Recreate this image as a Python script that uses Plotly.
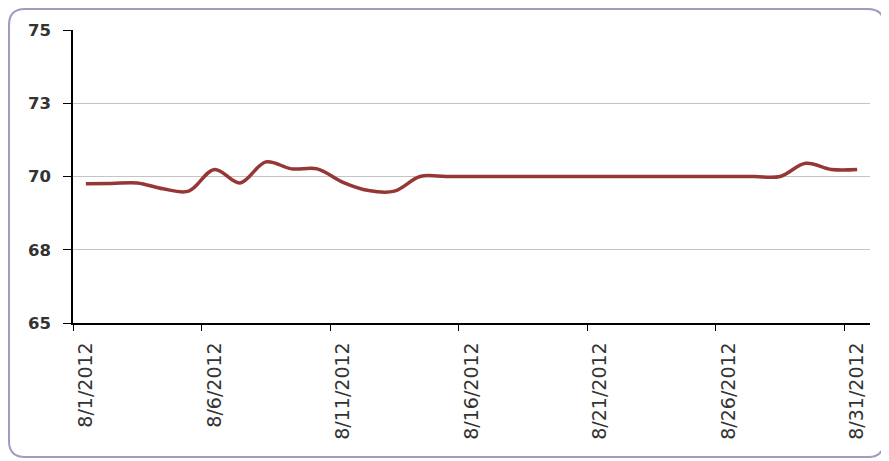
import pandas as pd
import plotly.graph_objects as go

# 1. 데이터
DATES = pd.date_range("2012-08-01", "2012-08-31", freq="D")
VALUES = [
    69.75, 69.76, 69.78, 69.58, 69.50, 70.24, 69.78, 70.50, 70.26, 70.26,
    69.80, 69.52, 69.50, 70.00, 70.00, 70.00, 70.00, 70.00, 70.00, 70.00,
    70.00, 70.00, 70.00, 70.00, 70.00, 70.00, 70.00, 70.00, 70.45, 70.24,
    70.24,
]
Y_TICKS = [65, 67.5, 70, 72.5, 75]

# 2. 공통 설정
FONT_FAMILY = "DejaVu Sans, Liberation Sans, sans-serif"
LINE_COLOR = "#953735"
GRID_COLOR = "#c4c4c4"
BORDER_COLOR = "#a29bbf"
DAY_MS = 86400000

# 페이지 body 여백(8px) 만큼 줄인 크기
W, H = 881, 453
L, R, T, B = 65, 19, 22, 138


def px_x(v):
    return (v - L) / (W - L - R)


def px_y(v):
    return (H - B - v) / (H - T - B)


def rounded_rect(x0, y0, x1, y1, r):
    # 픽셀 좌표 -> paper 좌표로 둥근 사각형 path
    pts = [
        ("M", x0 + r, y0), ("L", x1 - r, y0), ("Q", x1, y0, x1, y0 + r),
        ("L", x1, y1 - r), ("Q", x1, y1, x1 - r, y1), ("L", x0 + r, y1),
        ("Q", x0, y1, x0, y1 - r), ("L", x0, y0 + r), ("Q", x0, y0, x0 + r, y0),
    ]
    out = []
    for p in pts:
        coords = p[1:]
        s = [f"{px_x(coords[i]):.5f},{px_y(coords[i + 1]):.5f}" for i in range(0, len(coords), 2)]
        out.append(p[0] + " ".join(s))
    return " ".join(out) + " Z"


fig = go.Figure()
fig.add_trace(go.Scatter(
    x=DATES,
    y=VALUES,
    mode="lines",
    line=dict(color=LINE_COLOR, width=3.5, shape="spline", smoothing=1),
    xperiod=DAY_MS,
    xperiodalignment="middle",
    hoverinfo="skip",
))

fig.update_layout(
    width=W,
    height=H,
    margin=dict(l=L, r=R, t=T, b=B),
    paper_bgcolor="white",
    plot_bgcolor="white",
    showlegend=False,
    font=dict(family=FONT_FAMILY, color="#404040"),
    shapes=[dict(
        type="path",
        xref="paper",
        yref="paper",
        path=rounded_rect(1, 1, 876, 449, 16),
        line=dict(color=BORDER_COLOR, width=2),
        layer="below",
    )],
)

# 라벨은 하루의 가운데, 눈금선은 하루의 시작 (엑셀 날짜축 모양)
fig.update_xaxes(
    type="date",
    range=["2012-08-01", "2012-09-01"],
    tick0="2012-08-01 12:00",
    dtick=5 * DAY_MS,
    tickformat="%-m/%-d/%Y",
    tickangle=-90,
    tickfont=dict(size=19, color="#333333"),
    ticks="",
    ticklabelstandoff=10,
    minor=dict(
        tick0="2012-08-01",
        dtick=5 * DAY_MS,
        ticks="outside",
        ticklen=6,
        tickcolor="black",
        showgrid=False,
    ),
    showline=True,
    linecolor="black",
    linewidth=1.5,
    showgrid=False,
    zeroline=False,
)

fig.update_yaxes(
    range=[65, 75],
    tickvals=Y_TICKS,
    tickformat=".0f",
    tickfont=dict(size=16.5, color="#333333", weight="bold"),
    ticks="outside",
    ticklen=8,
    tickcolor="black",
    ticklabelstandoff=9,
    showline=True,
    linecolor="black",
    linewidth=1.5,
    showgrid=True,
    gridcolor=GRID_COLOR,
    gridwidth=1,
    zeroline=False,
)

fig.write_html("out.html")
